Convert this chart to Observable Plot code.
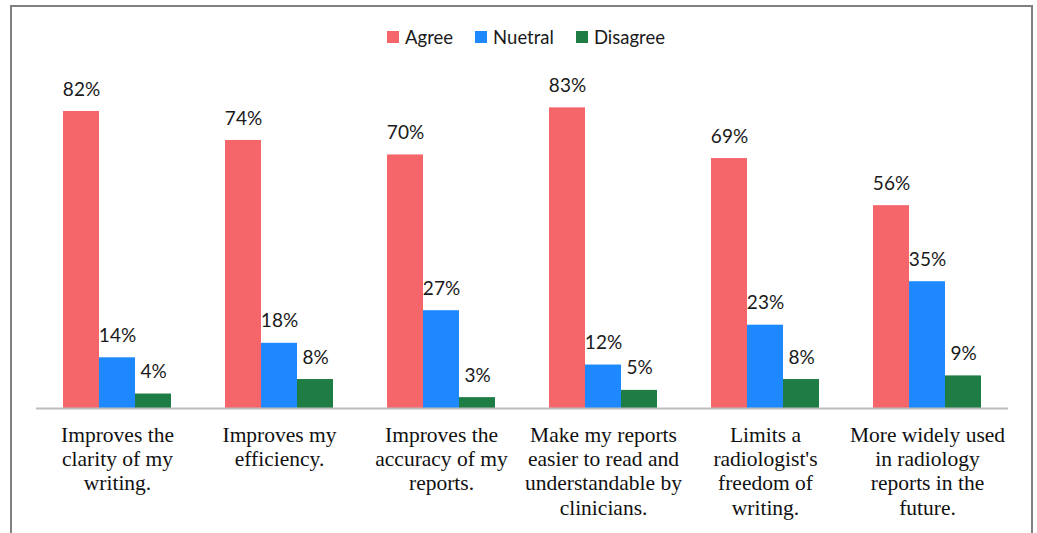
<!DOCTYPE html>
<html>
<head>
<meta charset="utf-8">
<script src="https://cdn.jsdelivr.net/npm/d3@7"></script>
<script src="https://cdn.jsdelivr.net/npm/@observablehq/plot@0.6"></script>
<style>
  body { margin: 0; background: #fff; }
  #wrap { position: relative; width: 1037px; height: 533px; overflow: hidden; background: #fff; }
  #frame { position: absolute; left: 10px; top: 5px; width: 1023px; height: 560px; border: 2px solid #808080; box-sizing: border-box; }
  #legend { position: absolute; top: 26px; left: 0; width: 1052px; display: flex; justify-content: center; gap: 22px;
            font-family: Lato, "Open Sans", sans-serif; font-size: 18.5px; color: #1a1a1a; }
  #legend .item { display: flex; align-items: center; gap: 6px; }
  #legend .sw { width: 12px; height: 12px; display: inline-block; }
  #chart { position: absolute; top: 60px; left: 0; }
</style>
</head>
<body>
<div id="wrap">
  <div id="frame"></div>
  <div id="legend"></div>
  <div id="chart"></div>
</div>
<script>
const categories = [
  "Improves the clarity of my writing.",
  "Improves my efficiency.",
  "Improves the accuracy of my reports.",
  "Make my reports easier to read and understandable by clinicians.",
  "Limits a radiologist's freedom of writing.",
  "More widely used in radiology reports in the future."
];
const tickLabels = [
  "Improves the\nclarity of my\nwriting.",
  "Improves my\nefficiency.",
  "Improves the\naccuracy of my\nreports.",
  "Make my reports\neasier to read and\nunderstandable by\nclinicians.",
  "Limits a\nradiologist's\nfreedom of\nwriting.",
  "More widely used\nin radiology\nreports in the\nfuture."
];
const seriesNames = ["Agree", "Nuetral", "Disagree"];
const agree = [82, 74, 70, 83, 69, 56];
const neutral = [14, 18, 27, 12, 23, 35];
const disagree = [4, 8, 3, 5, 8, 9];
const colors = ["#F4666A", "#1E88FF", "#1E7D45"];

const seriesValues = [agree, neutral, disagree];
const data = [];
categories.forEach((c, i) => {
  seriesNames.forEach((s, j) => {
    data.push({category: c, series: s, value: seriesValues[j][i]});
  });
});
const labelOf = new Map(categories.map((c, i) => [c, tickLabels[i]]));

// legend
const legend = document.getElementById("legend");
seriesNames.forEach((s, j) => {
  const it = document.createElement("div");
  it.className = "item";
  it.innerHTML = `<span class="sw" style="background:${colors[j]}"></span><span>${s}</span>`;
  legend.appendChild(it);
});

const chart = Plot.plot({
  width: 1037,
  height: 473,
  marginLeft: 34,
  marginRight: 27,
  marginTop: 22,
  marginBottom: 125,
  style: {fontFamily: "Lato, 'Open Sans', sans-serif", background: "transparent"},
  fx: {domain: categories, padding: 0, axis: null},
  x: {domain: seriesNames, paddingInner: 0, paddingOuter: 0.74, axis: null},
  y: {domain: [0, 90], axis: null},
  color: {domain: seriesNames, range: colors},
  marks: [
    Plot.barY(data, {fx: "category", x: "series", y: "value", fill: "series", inset: 0}),
    Plot.text(data, {fx: "category", x: "series", y: "value", text: d => d.value + "%",
      dy: -22, fontSize: 19, fill: "#1a1a1a", fontFamily: "Lato, 'Open Sans', sans-serif"}),
    Plot.ruleY([0], {stroke: "#bdbdbd", strokeWidth: 2}),
    Plot.axisFx({anchor: "bottom", tickSize: 0, tickPadding: 16, fontSize: 21.5, lineHeight: 1.13,
      fontFamily: "'Liberation Serif', 'Times New Roman', serif", fill: "#111", label: null,
      tickFormat: d => labelOf.get(d)})
  ]
});
document.getElementById("chart").appendChild(chart);
</script>
</body>
</html>
